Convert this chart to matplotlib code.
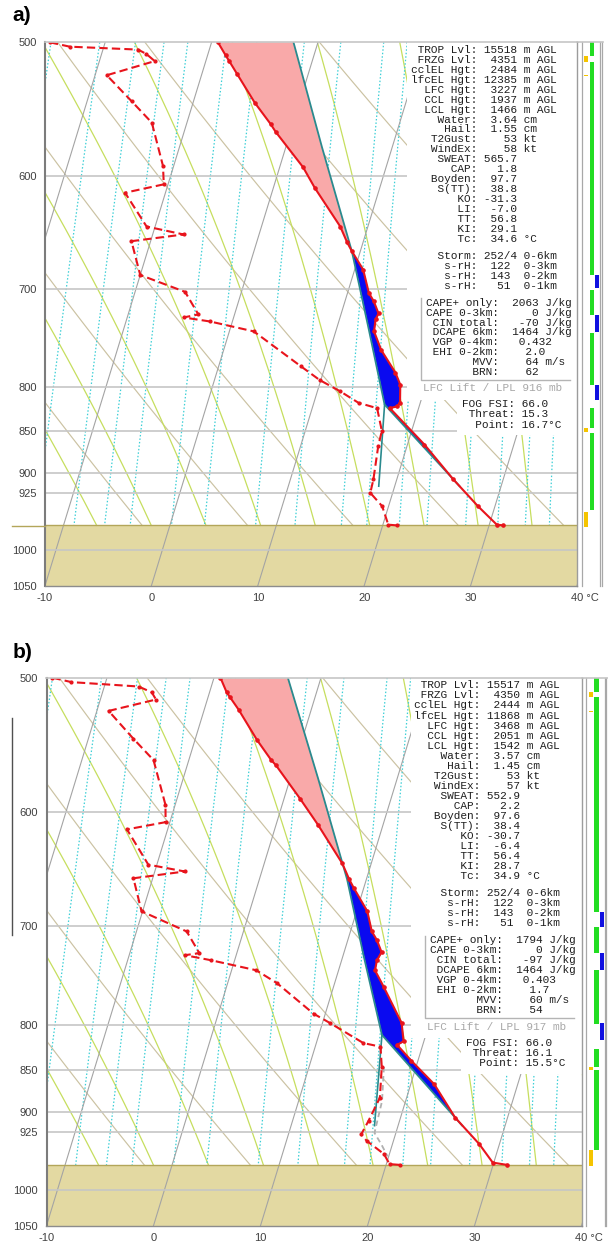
import numpy as np
import matplotlib
matplotlib.use("Agg")
import matplotlib.pyplot as plt
from matplotlib.patches import Rectangle
from matplotlib.lines import Line2D
from matplotlib.ticker import NullLocator

plt.rcParams['font.family'] = ['Liberation Sans', 'DejaVu Sans']

SKEW = 21.1      # deg C per ln(p) unit
P_BOT = 1050.0
P_TOP = 500.0
P_SFC = 967.0

# ---------------- sounding a) ----------------
pres_a = [500, 509, 513, 522, 543, 559, 565, 593, 610, 643, 657, 665, 682, 704, 712,
          724, 730, 742, 761, 785, 798, 818, 822, 824, 866, 908, 942, 966, 967]
temp_a = [-9.4, -8.3, -7.8, -6.7, -4.2, -2.1, -1.4, 2.2, 3.9, 7.4, 8.5, 9.2, 10.8, 12.0, 12.7,
          13.5, 13.4, 13.6, 14.8, 16.8, 17.6, 18.1, 17.9, 17.3, 21.6, 25.3, 28.4, 30.7, 31.3]
pdew_a = [500, 503, 505, 508, 513, 523, 542, 558, 592, 607, 614, 643, 650, 656, 687, 703,
          725, 728, 732, 742, 778, 793, 805, 818, 824, 850, 868, 908, 925, 942, 966, 967]
dwpt_a = [-25.2, -23.2, -16.7, -15.8, -14.8, -18.9, -15.8, -13.3, -11.0, -10.4, -13.8, -10.8,
          -7.1, -11.8, -10.0, -5.3, -3.4, -4.7, -2.1, 2.3, 7.7, 9.9, 12.1, 14.2, 16.1, 17.2,
          17.3, 17.8, 17.9, 19.4, 20.5, 21.3]
parcel_p_a = [916.6, 820, 739, 665, 577, 500]
parcel_t_a = [26.1, 16.7, 13.0, 9.2, 3.4, -2.3]
lpl_p_a = [916.6, 820]
lpl_td_a = [18.5, 16.7]

info_a = [" TROP Lvl: 15518 m AGL", " FRZG Lvl:  4351 m AGL", "cclEL Hgt:  2484 m AGL",
          "lfcEL Hgt: 12385 m AGL", "  LFC Hgt:  3227 m AGL", "  CCL Hgt:  1937 m AGL",
          "  LCL Hgt:  1466 m AGL", "    Water:  3.64 cm", "     Hail:  1.55 cm",
          "   T2Gust:    53 kt", "   WindEx:    58 kt", "    SWEAT: 565.7", "      CAP:   1.8",
          "   Boyden:  97.7", "    S(TT):  38.8", "       KO: -31.3", "       LI:  -7.0",
          "       TT:  56.8", "       KI:  29.1", "       Tc:  34.6 °C"]
storm_a = ["    Storm: 252/4 0-6km", "     s-rH:  122  0-3km", "     s-rH:  143  0-2km",
           "     s-rH:   51  0-1km"]
cape_a = ["CAPE+ only:  2063 J/kg", "CAPE 0-3km:     0 J/kg", " CIN total:   -70 J/kg",
          " DCAPE 6km:  1464 J/kg", " VGP 0-4km:   0.432", " EHI 0-2km:    2.0",
          "       MVV:    64 m/s", "       BRN:    62"]
lfc_a = "LFC Lift / LPL 916 mb"
fog_a = ["FOG FSI: 66.0", " Threat: 15.3", "  Point: 16.7°C"]
green_a = [(42.3, 56), (62, 275), (290, 315), (333, 385), (408, 428), (433, 510)]
blue_a = [(275, 288.3), (315, 332), (385, 400)]
yellow_a = [(56, 62), (74.5, 76), (428, 432), (511.7, 526.7)]

# ---------------- sounding b) ----------------
pres_b = [500, 510, 513, 522, 544, 559, 563, 589, 610, 643, 657, 665, 686, 705, 713, 725,
          733, 743, 760, 798, 818, 822, 840, 867, 907, 940, 964, 967]
temp_b = [-9.4, -8.4, -8.0, -6.8, -4.2, -2.3, -1.7, 1.5, 3.9, 7.3, 8.4, 9.1, 11.0, 12.0, 12.7,
          13.5, 13.3, 13.4, 14.7, 17.4, 18.1, 17.6, 19.4, 22.2, 25.1, 28.1, 29.9, 31.3]
pdew_b = [500, 503, 506, 510, 515, 523, 543, 559, 594, 608, 614, 644, 650, 656, 686, 705,
          726, 728, 733, 743, 756, 788, 798, 820, 824, 847, 883, 911, 928, 936, 953, 966, 967]
dwpt_b = [-25.1, -23.2, -16.8, -15.4, -14.8, -18.9, -15.8, -13.3, -10.9, -10.4, -13.8, -10.8,
          -7.2, -11.8, -10.1, -5.3, -3.5, -4.8, -2.2, 2.3, 4.6, 8.9, 10.7, 14.4, 16.1, 16.8,
          17.5, 17.1, 16.8, 17.5, 19.5, 20.3, 21.3]
pgray_b = [847, 887, 926, 941, 956]
tgray_b = [17.0, 17.8, 18.0, 19.0, 19.9]
parcel_p_b = [917, 811, 730, 657, 573, 500]
parcel_t_b = [26.0, 15.9, 12.0, 8.2, 2.6, -3.1]
lpl_p_b = [917, 811]
lpl_td_b = [17.8, 15.9]

info_b = [" TROP Lvl: 15517 m AGL", " FRZG Lvl:  4350 m AGL", "cclEL Hgt:  2444 m AGL",
          "lfcEL Hgt: 11868 m AGL", "  LFC Hgt:  3468 m AGL", "  CCL Hgt:  2051 m AGL",
          "  LCL Hgt:  1542 m AGL", "    Water:  3.57 cm", "     Hail:  1.45 cm",
          "   T2Gust:    53 kt", "   WindEx:    57 kt", "    SWEAT: 552.9", "      CAP:   2.2",
          "   Boyden:  97.6", "    S(TT):  38.4", "       KO: -30.7", "       LI:  -6.4",
          "       TT:  56.4", "       KI:  28.7", "       Tc:  34.9 °C"]
storm_b = storm_a
cape_b = ["CAPE+ only:  1794 J/kg", "CAPE 0-3km:     0 J/kg", " CIN total:   -97 J/kg",
          " DCAPE 6km:  1464 J/kg", " VGP 0-4km:   0.403", " EHI 0-2km:    1.7",
          "       MVV:    60 m/s", "       BRN:    54"]
lfc_b = "LFC Lift / LPL 917 mb"
fog_b = ["FOG FSI: 66.0", " Threat: 16.1", "  Point: 15.5°C"]
green_b = [(42.6, 56.5), (61.4, 274.3), (289.2, 315.3), (332.2, 385.2), (410.2, 428.3), (431.8, 510.7)]
blue_b = [(274.3, 289.2), (315.6, 332.2), (385.1, 401.6)]
yellow_b = [(56.5, 61.4), (75.3, 76.8), (428.3, 431.8), (510.7, 526.6)]

# chart furniture
p_levels = [500, 600, 700, 800, 850, 900, 925, 1000, 1050]
t_ticks = [-10, 0, 10, 20, 30]
isotherms = range(-110, 50, 10)
dry_thetas = range(-40, 170, 10)
moist_thetas = range(-10, 45, 5)
mix_ratios = [1, 1.5, 2, 2.5, 3, 4, 5, 7, 9, 12, 14, 17, 20, 25, 30, 35, 40]

RED = '#e8141c'
TEAL = '#2a8a8e'


def sx(t, p):
    return np.asarray(t, float) + SKEW * np.log(P_BOT / np.asarray(p, float))


def fx(x):
    return (x - 45.0) / 532.0


def fy(y):
    return 1.0 - (y - 42.3) / 543.4


def moist_slope(T, p):
    Rd, cp, Lv, eps = 287.04, 1005.7, 2.501e6, 0.622
    tc = T - 273.15
    es = 6.112 * np.exp(17.67 * tc / (tc + 243.5))
    rs = eps * es / (p - es)
    return (Rd * T + Lv * rs) / (cp + Lv ** 2 * rs * eps / (Rd * T ** 2))


def moist_line(tw):
    res = []
    for end in (np.log(500.0), np.log(P_SFC)):
        lnp = np.linspace(np.log(1000.0), end, 150)
        T = np.empty_like(lnp)
        T[0] = tw + 273.15
        for i in range(1, len(lnp)):
            h = lnp[i] - lnp[i - 1]
            k1 = moist_slope(T[i - 1], np.exp(lnp[i - 1]))
            k2 = moist_slope(T[i - 1] + h * k1, np.exp(lnp[i]))
            T[i] = T[i - 1] + h * (k1 + k2) / 2
        res.append((np.exp(lnp), T))
    (pu, tu), (pd, td) = res
    p = np.concatenate([pd[::-1], pu[1:]])
    t = np.concatenate([td[::-1], tu[1:]]) - 273.15
    keep = p <= P_SFC + 0.01
    return p[keep], t[keep]


def draw_panel(ax, d):
    ax.set_yscale('log')
    ax.set_xlim(-10, 40)
    ax.set_ylim(P_BOT, P_TOP)
    ax.set_yticks(p_levels)
    ax.set_yticklabels([str(p) for p in p_levels])
    ax.yaxis.set_minor_locator(NullLocator())
    ax.set_xticks(t_ticks)
    ax.set_xticklabels([str(t) for t in t_ticks])
    ax.tick_params(axis='y', length=0, pad=6, labelsize=8, labelcolor='#404040')
    ax.tick_params(axis='x', length=0, pad=5, labelsize=8, labelcolor='#404040')
    ax.text(fx(570.8), -0.0128, '40 °C', transform=ax.transAxes, ha='left', va='top',
            fontsize=8, color='#404040')

    pp = np.exp(np.linspace(np.log(P_TOP), np.log(P_SFC), 120))
    # ground
    ax.axhspan(P_SFC, P_BOT, color='#e3d9a2', lw=0, zorder=0.5)
    ax.axhline(P_SFC, color='#b3a65a', lw=1.0, zorder=2)
    for t in isotherms:
        ax.plot(sx([t, t], [P_BOT, P_TOP]), [P_BOT, P_TOP], color='#a4a4a4', lw=0.8, zorder=1.2)
    for th in dry_thetas:
        T = (th + 273.15) * (pp / 1000.0) ** 0.2857 - 273.15
        ax.plot(sx(T, pp), pp, color='#cbc2a2', lw=0.85, zorder=1)
    for tw in moist_thetas:
        p_m, t_m = moist_line(tw)
        ax.plot(sx(t_m, p_m), p_m, color='#c6de5e', lw=0.9, zorder=1)
    for w in mix_ratios:
        e = w * pp / (622.0 + w)
        le = np.log(e / 6.112)
        td = 243.5 * le / (17.67 - le)
        ax.plot(sx(td, pp), pp, color='#3ccfd6', lw=0.9, ls=(0, (1.2, 1.6)), zorder=1)
    for p in p_levels[1:-1]:
        ax.axhline(p, color='#c6c6c6', lw=1.2, zorder=2)

    # white text boxes
    ax.add_patch(Rectangle((fx(407), fy(400)), 1 - fx(407), 1 - fy(400), transform=ax.transAxes,
                           facecolor='white', edgecolor='none', zorder=3))
    ax.add_patch(Rectangle((fx(457), fy(435)), 1 - fx(457), fy(400) - fy(435), transform=ax.transAxes,
                           facecolor='white', edgecolor='none', zorder=3))
    ax.plot([fx(421), fx(421), fx(570)], [fy(298), fy(380), fy(380)], transform=ax.transAxes,
            color='#b4b4b4', lw=1.0, zorder=3.5)

    # CAPE / CIN areas
    tp = np.array(d['pres'], float)
    pp_par = np.array(d['parcel_p'], float)
    order = np.argsort(pp_par)
    grid = np.exp(np.linspace(np.log(P_TOP), np.log(pp_par.max()), 600))
    x_env = np.interp(np.log(grid), np.log(tp), sx(d['temp'], tp))
    x_par = np.interp(np.log(grid), np.log(pp_par[order]), sx(np.array(d['parcel_t'])[order], pp_par[order]))
    ax.fill_betweenx(grid, x_env, x_par, where=x_par >= x_env, interpolate=True,
                     color='#f9a9a9', lw=0, zorder=4)
    ax.fill_betweenx(grid, x_par, x_env, where=x_env >= x_par, interpolate=True,
                     color='#0a0af0', lw=0, zorder=4)
    ax.plot(sx(d['parcel_t'], d['parcel_p']), d['parcel_p'], color=TEAL, lw=1.3, zorder=5)
    ax.plot(sx(d['lpl_td'], d['lpl_p']), d['lpl_p'], color=TEAL, lw=1.2, zorder=5)
    if 'gray_p' in d:
        ax.plot(sx(d['gray_t'], d['gray_p']), d['gray_p'], color='#b0b0b0', lw=1.3,
                ls=(0, (3, 2)), zorder=5)
    ax.plot(sx(d['temp'], d['pres']), d['pres'], color=RED, lw=1.5, marker='o', ms=2.3, zorder=6)
    ax.plot(sx(d['dwpt'], d['pdew']), d['pdew'], color=RED, lw=1.5, ls=(0, (4, 2)),
            marker='o', ms=2.0, zorder=6)

    # text
    mono = dict(family='Liberation Mono', fontsize=8, color='#1e1e1e', ha='left', va='center',
                transform=ax.transAxes, zorder=7, clip_on=False)
    for i, s in enumerate(d['info']):
        ax.text(fx(410.7), fy(50 + 9.93 * i), s, **mono)
    for i, s in enumerate(d['storm']):
        ax.text(fx(410.7), fy(256 + 10 * i), s, **mono)
    for i, s in enumerate(d['cape']):
        ax.text(fx(426), fy(302.7 + 9.9 * i), s, **mono)
    lfc_kw = dict(mono)
    lfc_kw['color'] = '#a8a8a8'
    ax.text(fx(423.3), fy(388.3), d['lfc'], **lfc_kw)
    for i, s in enumerate(d['fog']):
        ax.text(fx(462.3), fy(404.3 + 10.1 * i), s, **mono)

    # spines
    for s in ax.spines.values():
        s.set_zorder(10)
    ax.spines['left'].set_color('#7c7c7c')
    ax.spines['left'].set_linewidth(1.5)
    ax.spines['top'].set_color('#c6c6c6')
    ax.spines['top'].set_linewidth(1.2)
    ax.spines['bottom'].set_color('#8c8c8c')
    ax.spines['bottom'].set_linewidth(1.0)
    ax.spines['right'].set_color('#9c9c9c')
    ax.spines['right'].set_linewidth(1.0)

    # indicator strip on the right
    cols = [(d['yellow'], 584.3, 588.3, '#f5c400'), (d['green'], 589.5, 594.0, '#22dd22'),
            (d['blue'], 595.0, 599.0, '#1010e0')]
    for segs, x0, x1, c in cols:
        for y0, y1 in segs:
            ax.add_patch(Rectangle((fx(x0), fy(y1)), fx(x1) - fx(x0), fy(y0) - fy(y1),
                                   transform=ax.transAxes, facecolor=c, edgecolor='none',
                                   clip_on=False, zorder=5))
    for xl in (581.7, 600.0, 601.7):
        ax.plot([fx(xl), fx(xl)], [0, 1], transform=ax.transAxes, color='#a8a8a8', lw=0.9,
                clip_on=False, zorder=6)
    ax.plot([1, fx(603)], [1, 1], transform=ax.transAxes, color='#c6c6c6', lw=1.2,
            clip_on=False, zorder=6)


fig = plt.figure(figsize=(6.08, 12.42), dpi=100)
ax_a = fig.add_axes([45 / 608, 1 - 585.7 / 1242, 532 / 608, 543.4 / 1242])
ax_b = fig.add_axes([46.5 / 608, 1 - 1225.7 / 1242, 535 / 608, 548 / 1242])

panel_a = dict(pres=pres_a, temp=temp_a, pdew=pdew_a, dwpt=dwpt_a, parcel_p=parcel_p_a,
               parcel_t=parcel_t_a, lpl_p=lpl_p_a, lpl_td=lpl_td_a, info=info_a, storm=storm_a,
               cape=cape_a, lfc=lfc_a, fog=fog_a, green=green_a, blue=blue_a, yellow=yellow_a)
panel_b = dict(pres=pres_b, temp=temp_b, pdew=pdew_b, dwpt=dwpt_b, parcel_p=parcel_p_b,
               parcel_t=parcel_t_b, lpl_p=lpl_p_b, lpl_td=lpl_td_b, info=info_b, storm=storm_b,
               cape=cape_b, lfc=lfc_b, fog=fog_b, green=green_b, blue=blue_b, yellow=yellow_b,
               gray_p=pgray_b, gray_t=tgray_b)

draw_panel(ax_a, panel_a)
draw_panel(ax_b, panel_b)

fig.text(12 / 608, 1 - 15.5 / 1242, 'a)', fontsize=15, fontweight='bold', ha='left', va='center')
fig.text(12.5 / 608, 1 - 652.5 / 1242, 'b)', fontsize=15, fontweight='bold', ha='left', va='center')
# stray marks from the source figure
fig.add_artist(Line2D([12 / 608, 45 / 608], [1 - 526 / 1242, 1 - 526 / 1242], color='#b3a65a', lw=1.0))
fig.add_artist(Line2D([11.7 / 608, 11.7 / 608], [1 - 718 / 1242, 1 - 935 / 1242], color='#505050', lw=1.0))

fig.savefig('out.png', dpi=100)
